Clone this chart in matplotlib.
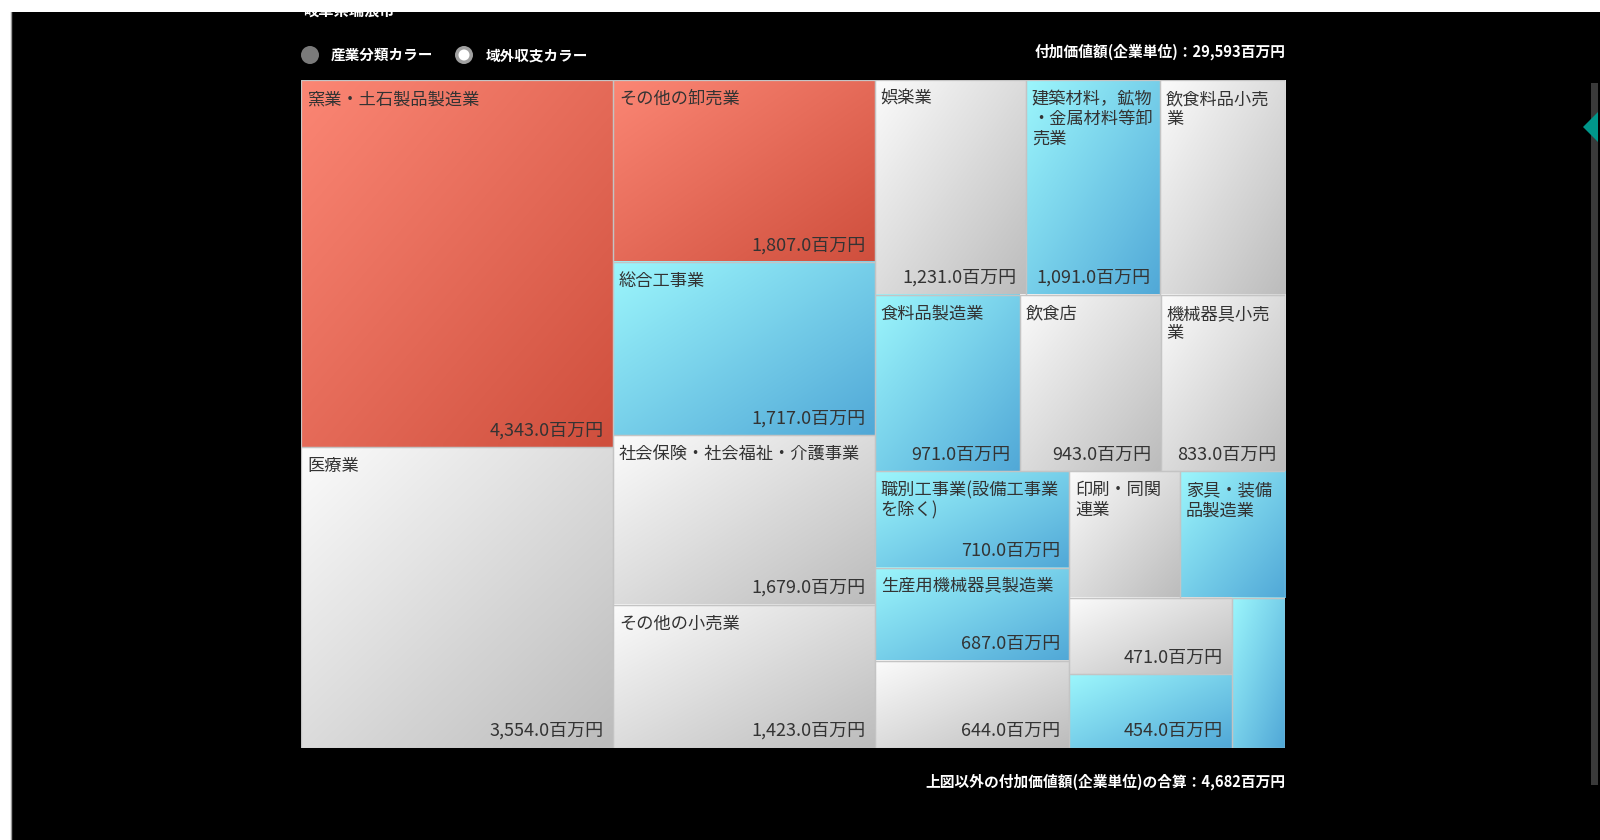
import numpy as np
import matplotlib.pyplot as plt
from matplotlib.colors import LinearSegmentedColormap
from matplotlib.patches import Rectangle, Circle, Polygon

plt.rcParams['font.family'] = ['Noto Sans CJK JP', 'DejaVu Sans']

# 付加価値額(企業単位), 百万円
names = ['窯業・土石製品製造業', '医療業',
         'その他の卸売業', '総合工事業', '社会保険・社会福祉・介護事業', 'その他の小売業',
         '娯楽業', '建築材料，鉱物\n・金属材料等卸\n売業', '飲食料品小売\n業',
         '食料品製造業', '飲食店', '機械器具小売\n業',
         '職別工事業(設備工事業\nを除く)', '生産用機械器具製造業', '',
         '印刷・同関\n連業', '家具・装備\n品製造業',
         '', '', '']
values = [4343, 3554,
          1807, 1717, 1679, 1423,
          1231, 1091, 1018,
          971, 943, 833,
          710, 687, 644,
          529, 505,
          471, 454,
          301]
# 域外収支カラー: plus = red, minus = cyan, even = gray
balance = ['plus', 'even',
           'plus', 'minus', 'even', 'even',
           'even', 'minus', 'even',
           'minus', 'even', 'even',
           'minus', 'minus', 'even',
           'even', 'minus',
           'even', 'minus',
           'minus']
show_value = [True, True,
              True, True, True, True,
              True, True, False,
              True, True, True,
              True, True, True,
              False, False,
              True, True,
              False]
strip_sizes = [2, 4, 3, 3, 3, 2, 2, 1]
other_total = 4682

total_all = sum(values) + other_total

cmaps = {
    'plus': LinearSegmentedColormap.from_list('plus', ['#fb8674', '#cf4f3d']),
    'minus': LinearSegmentedColormap.from_list('minus', ['#9cf6fc', '#51a8d7']),
    'even': LinearSegmentedColormap.from_list('even', ['#fbfbfb', '#bcbcbc']),
}


def strip_layout(vals, counts, x0, y0, x1, y1):
    rects = []
    remaining = float(sum(vals))
    i = 0
    for n in counts:
        group = vals[i:i + n]
        s = float(sum(group))
        dx, dy = x1 - x0, y1 - y0
        if dx < dy:
            # row along the top
            h = dy * s / remaining
            x = x0
            for v in group:
                w = dx * v / s
                rects.append((x, y0, w, h))
                x += w
            y0 += h
        else:
            # column on the left
            w = dx * s / remaining
            y = y0
            for v in group:
                h = dy * v / s
                rects.append((x0, y, w, h))
                y += h
            x0 += w
        remaining -= s
        i += n
    return rects


W, H = 1600, 840
fig = plt.figure(figsize=(16, 8.4), dpi=100, facecolor='white')

# page background and controls, in pixel coordinates
bg = fig.add_axes([0, 0, 1, 1])
bg.set_xlim(0, W)
bg.set_ylim(H, 0)
bg.axis('off')
bg.add_patch(Rectangle((11, 12), W - 11, H - 12, facecolor='black', edgecolor='none', zorder=0))
bg.plot([10.5, 10.5], [12, H], color='#9a9a9a', lw=1, zorder=1)
bg.text(303, 11, '岐阜県瑞浪市', color='white', fontsize=11, fontweight='bold',
        ha='left', va='center', zorder=1)
bg.add_patch(Rectangle((0, 0), W, 12, facecolor='white', edgecolor='none', zorder=5))

bg.add_patch(Circle((310, 55), 9, facecolor='#7a7a7a', edgecolor='none', zorder=2))
bg.text(331, 55, '産業分類カラー', color='white', fontsize=10.5, fontweight='bold',
        ha='left', va='center', zorder=2)
bg.add_patch(Circle((464, 55), 9, facecolor='#a0a0a0', edgecolor='none', zorder=2))
bg.add_patch(Circle((464, 55), 5.5, facecolor='white', edgecolor='none', zorder=3))
bg.text(486, 55, '域外収支カラー', color='white', fontsize=10.5, fontweight='bold',
        ha='left', va='center', zorder=2)

bg.text(1286, 52, f'付加価値額(企業単位)：{total_all:,}百万円', color='white',
        fontsize=10.6, fontweight='bold', ha='right', va='center', zorder=2)
bg.text(1286, 782, f'上図以外の付加価値額(企業単位)の合算：{other_total:,}百万円', color='white',
        fontsize=10.6, fontweight='bold', ha='right', va='center', zorder=2)

# scrollbar and side tab
bg.add_patch(Rectangle((1591, 83), 7, 702, facecolor='#3a3a3a', edgecolor='none', zorder=2))
bg.add_patch(Polygon([(1583, 127), (1598, 112), (1598, 142)], closed=True,
                     facecolor='#00968a', edgecolor='none', zorder=3))

# treemap
tx0, ty0, tx1, ty1 = 301, 80, 1285, 748
tw, th = tx1 - tx0, ty1 - ty0
ax = fig.add_axes([tx0 / W, 1 - ty1 / H, tw / W, th / H])
ax.axis('off')

rects = strip_layout(values, strip_sizes, 0, 0, tw, th)
n = 64
gx, gy = np.meshgrid(np.linspace(0, 1, n), np.linspace(0, 1, n))
grad = (gx + gy) / 2

for (x, y, w, h), name, v, b, sv in zip(rects, names, values, balance, show_value):
    ax.imshow(grad, extent=(x, x + w, y + h, y), origin='upper', cmap=cmaps[b],
              vmin=0, vmax=1, interpolation='bilinear', aspect='auto', zorder=1)
    ax.add_patch(Rectangle((x, y), w, h, fill=False, edgecolor='#c4c4c4', lw=0.9, zorder=2))
    if name:
        ax.text(x + 6, y + 10, name, fontsize=12.4, color='#333333', ha='left', va='top',
                linespacing=1.12, zorder=3)
    if sv:
        ax.text(x + w - 9, y + h - 8, f'{v:,.1f}百万円', fontsize=13, color='#333333',
                ha='right', va='bottom', zorder=3)

ax.set_xlim(0, tw)
ax.set_ylim(th, 0)
ax.set_aspect('auto')

fig.savefig('out.png', dpi=100, facecolor='white')
